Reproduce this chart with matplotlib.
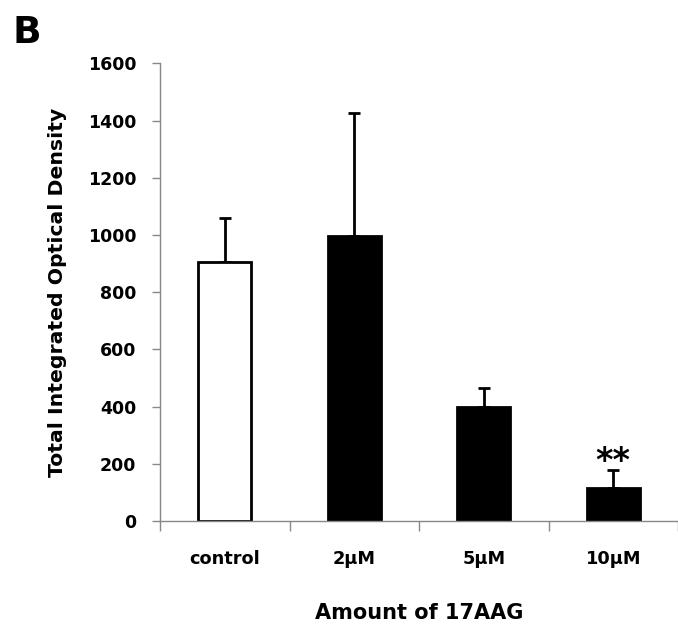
import numpy as np
import matplotlib
matplotlib.use("Agg")
import matplotlib.pyplot as plt

plt.rcParams['font.family'] = ['DejaVu Sans']

groups = ['control', '2\u03bcM', '5\u03bcM', '10\u03bcM']
means = [907, 998, 398, 117]
errs = [153, 429, 68, 60]
colors = ['white', 'black', 'black', 'black']

fig = plt.figure(figsize=(6.78, 6.28), dpi=100)
ax = fig.add_axes([160 / 678, 1 - 521 / 628, 1 - 160 / 678, (521 - 63.3) / 628])

x = np.arange(len(groups))
ax.bar(x, means, width=0.41, color=colors, edgecolor='black', linewidth=2, zorder=2)
ax.errorbar(x, means, yerr=[np.zeros(len(errs)), errs], fmt='none',
            ecolor='black', elinewidth=2, capsize=4, capthick=2, zorder=1)

# significance mark over the 10uM bar
ax.text(x[3], means[3] + errs[3] - 28, '**', ha='center', va='bottom',
        fontsize=24, fontweight='bold')

ax.set_xlim(-0.5, 518 / 131 - 0.5)
ax.set_ylim(0, 1600)
ax.set_yticks(np.arange(0, 1601, 200))
ax.set_xticks(x)
ax.set_xticklabels(groups, fontsize=12.8, fontweight='bold')
ax.set_xticks(np.arange(-0.5, 3.6, 1), minor=True)
ax.tick_params(axis='x', which='major', length=0, pad=21)
ax.tick_params(axis='x', which='minor', length=7, color='#888888', width=1)
ax.tick_params(axis='y', length=6, color='#888888', width=1, labelsize=12.5, pad=11)
for lab in ax.get_yticklabels():
    lab.set_fontweight('bold')

for s in ['top', 'right']:
    ax.spines[s].set_visible(False)
for s in ['left', 'bottom']:
    ax.spines[s].set_color('#888888')
    ax.spines[s].set_linewidth(1)

ax.set_ylabel('Total Integrated Optical Density', fontsize=14.7, fontweight='bold', labelpad=15)
ax.set_xlabel('Amount of 17AAG', fontsize=15, fontweight='bold', labelpad=25)

fig.text(13 / 678, 1 - 43 / 628, 'B', fontsize=27, fontweight='bold', ha='left', va='baseline')

fig.savefig('out.png', dpi=100)
